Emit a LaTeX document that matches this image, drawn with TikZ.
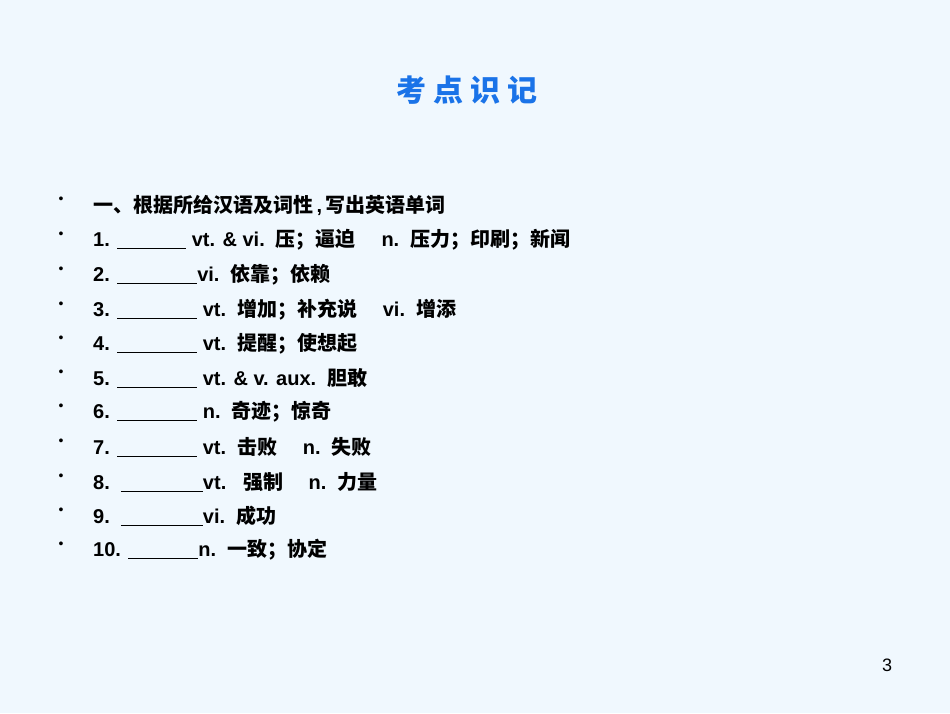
\documentclass[tikz,border=0pt]{standalone}
\usepackage{fontspec}
\setmainfont{Liberation Sans}
\newfontfamily\zh{Noto Sans CJK SC}
\newcommand{\blank}[1]{\rule[-2pt]{#1pt}{0.8pt}}
\begin{document}
\begin{tikzpicture}[x=1pt,y=-1pt,
  item/.style={anchor=west,inner sep=0pt,font=\fontsize{20}{20}\selectfont\bfseries},
  bul/.style={inner sep=0pt,font=\fontsize{14}{14}\selectfont}]
\fill[fill={rgb,255:red,240;green,248;blue,254}] (0,0) rectangle (950,713);
\node[font=\zh\fontsize{30}{30}\selectfont\bfseries,text={rgb,255:red,26;green,115;blue,232}] (title) at (467,90) {考\ 点\ 识\ 记};
\foreach \y [count=\i] in {205,240,275,310,344,378,412,447,482,516,550}
  \node[bul] (b\i) at (61,\y-5) {•};
\node[item] (l1) at (93,205) {\zh 一、根据所给汉语及词性\,\rmfamily,\,\zh 写出英语单词};
\node[item] (l2) at (93,240) {1. \blank{69} vt. \& vi.\ \ {\zh 压；逼迫}\quad\ n.\ \ {\zh 压力；印刷；新闻}};
\node[item] (l3) at (93,275) {2. \blank{80}vi.\ \ {\zh 依靠；依赖}};
\node[item] (l4) at (93,310) {3. \blank{80} vt.\ \ {\zh 增加；补充说}\quad\ vi.\ \ {\zh 增添}};
\node[item] (l5) at (93,344) {4. \blank{80} vt.\ \ {\zh 提醒；使想起}};
\node[item] (l6) at (93,378) {5. \blank{80} vt. \& v. aux.\ \ {\zh 胆敢}};
\node[item] (l7) at (93,412) {6. \blank{80} n.\ \ {\zh 奇迹；惊奇}};
\node[item] (l8) at (93,447) {7. \blank{80} vt.\ \ {\zh 击败}\quad\ n.\ \ {\zh 失败}};
\node[item] (l9) at (93,482) {8.\ \ \blank{82}vt.\ \ \ {\zh 强制}\quad\ n.\ \ {\zh 力量}};
\node[item] (l10) at (93,516) {9.\ \ \blank{82}vi.\ \ {\zh 成功}};
\node[item] (l11) at (93,550) {10. \blank{70}n.\ \ {\zh 一致；协定}};
\node[font=\fontsize{18}{18}\selectfont] (pg) at (887,665) {3};
\end{tikzpicture}
\end{document}
